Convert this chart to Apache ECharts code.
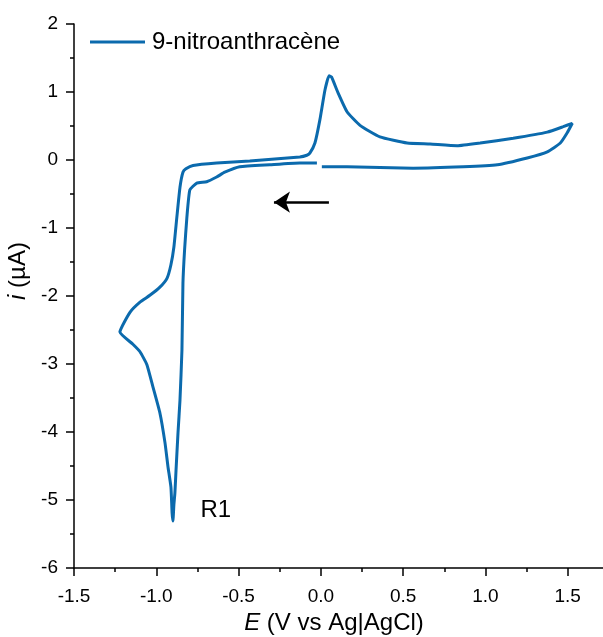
<!DOCTYPE html>
<html>
<head>
<meta charset="utf-8">
<script src="https://cdn.jsdelivr.net/npm/echarts@6/dist/echarts.min.js"></script>
<style>
html,body{margin:0;padding:0;background:#fff;}
#chart{width:603px;height:637px;}
</style>
</head>
<body>
<div id="chart"></div>
<script>
// Cyclic voltammogram of 9-nitroanthracene (E in V vs Ag|AgCl, i in µA)
const potentialV = [
  -0.024, -0.128, -0.310, -0.493, -0.584, -0.633, -0.694, -0.754, -0.796, -0.814,
  -0.828, -0.838, -0.844, -0.856, -0.868, -0.880, -0.887, -0.893, -0.899,
  -0.904, -0.911, -0.929, -0.947, -0.978, -1.020, -1.057, -1.099, -1.142, -1.221,
  -1.160, -1.099, -1.039, -0.978, -0.935, -0.911, -0.893, -0.875, -0.856, -0.838,
  -0.820, -0.777, -0.633, -0.432, -0.128, -0.085, -0.067, -0.036, -0.006,
  0.025, 0.050, 0.065, 0.104, 0.159, 0.238, 0.359, 0.524, 0.664, 0.828,
  0.968, 1.169, 1.376, 1.473, 1.528,
  1.497, 1.455, 1.376, 1.254, 1.072, 0.865, 0.560, 0.159, 0.006
];
const currentUA = [
  -0.044, -0.044, -0.070, -0.100, -0.180, -0.250, -0.320, -0.340, -0.440, -0.840,
  -1.320, -1.810, -2.790, -3.530, -4.010, -4.560, -4.900, -5.070, -5.310,
  -5.190, -4.810, -4.510, -4.160, -3.720, -3.340, -3.010, -2.820, -2.710, -2.530,
  -2.240, -2.090, -1.990, -1.870, -1.740, -1.540, -1.280, -0.840, -0.400, -0.180,
  -0.130, -0.080, -0.044, -0.015, 0.044, 0.070, 0.100, 0.250, 0.590,
  1.030, 1.240, 1.220, 0.990, 0.710, 0.510, 0.340, 0.250, 0.235, 0.210,
  0.250, 0.320, 0.410, 0.490, 0.540,
  0.400, 0.250, 0.120, 0.030, -0.070, -0.100, -0.120, -0.100, -0.100
];
const seriesName = '9-nitroanthracène';
const scanArrowFrom = [0.049, -0.62];
const scanArrowTo = [-0.285, -0.62];
const peakLabelPos = [-0.638, -5.15];
const peakLabelText = 'R1';

const cvData = potentialV.map((e, k) => [e, currentUA[k]]);
const FONT = '"Liberation Sans", Arial, sans-serif';
const chart = echarts.init(document.getElementById('chart'), null, {renderer: 'canvas'});
chart.setOption({
  animation: false,
  backgroundColor: '#ffffff',
  grid: {left: 74, top: 24, width: 576, bottom: 69, containLabel: false, outerBoundsMode: 'none'},
  legend: {
    left: 90, top: 30, padding: 0,
    icon: 'rect', itemWidth: 55, itemHeight: 3,
    textStyle: {fontFamily: FONT, fontSize: 24, color: '#000', padding: [0, 0, 0, 2]},
    data: [seriesName]
  },
  xAxis: {
    type: 'value', min: -1.5, max: 2.0, interval: 0.5,
    name: '{it|E} (V vs Ag|AgCl)', nameLocation: 'middle', nameGap: 37,
    nameTextStyle: {fontFamily: FONT, fontSize: 24, color: '#000', padding: [0, 56, 0, 0],
      rich: {it: {fontStyle: 'italic', fontFamily: FONT, fontSize: 24, color: '#000'}}},
    axisLine: {show: true, onZero: false, lineStyle: {color: '#000', width: 1.5}},
    axisTick: {show: true, inside: false, length: 8, lineStyle: {color: '#000', width: 1.5}},
    minorTick: {show: true, splitNumber: 2, length: 4, lineStyle: {color: '#000', width: 1.5}},
    axisLabel: {fontFamily: FONT, fontSize: 19, color: '#000', margin: 19,
      showMaxLabel: false, formatter: v => v.toFixed(1)},
    splitLine: {show: false}
  },
  yAxis: {
    type: 'value', min: -6, max: 2, interval: 1,
    name: '{it|i} (µA)', nameLocation: 'middle', nameGap: 44, nameRotate: 90,
    nameTextStyle: {fontFamily: FONT, fontSize: 24, color: '#000', padding: [0, 0, 0, 50],
      rich: {it: {fontStyle: 'italic', fontFamily: FONT, fontSize: 24, color: '#000'}}},
    axisLine: {show: true, onZero: false, lineStyle: {color: '#000', width: 1.5}},
    axisTick: {show: true, inside: false, length: 8, lineStyle: {color: '#000', width: 1.5}},
    minorTick: {show: true, splitNumber: 2, length: 4, lineStyle: {color: '#000', width: 1.5}},
    axisLabel: {fontFamily: FONT, fontSize: 19, color: '#000', margin: 16},
    splitLine: {show: false}
  },
  series: [{
    name: seriesName,
    type: 'line',
    data: cvData,
    symbol: 'none',
    smooth: 0.15,
    clip: false,
    lineStyle: {color: '#0b6aad', width: 3},
    itemStyle: {color: '#0b6aad'},
    markLine: {
      silent: true, animation: false,
      symbol: ['none', 'arrow'], symbolSize: 16,
      label: {show: false},
      lineStyle: {color: '#000', width: 2.5, type: 'solid'},
      data: [[{coord: scanArrowFrom}, {coord: scanArrowTo}]]
    },
    markPoint: {
      silent: true, animation: false,
      symbol: 'circle', symbolSize: 0,
      label: {show: true, formatter: peakLabelText, fontFamily: FONT, fontSize: 24, color: '#000'},
      data: [{coord: peakLabelPos, value: 0}]
    }
  }]
});
</script>
</body>
</html>
